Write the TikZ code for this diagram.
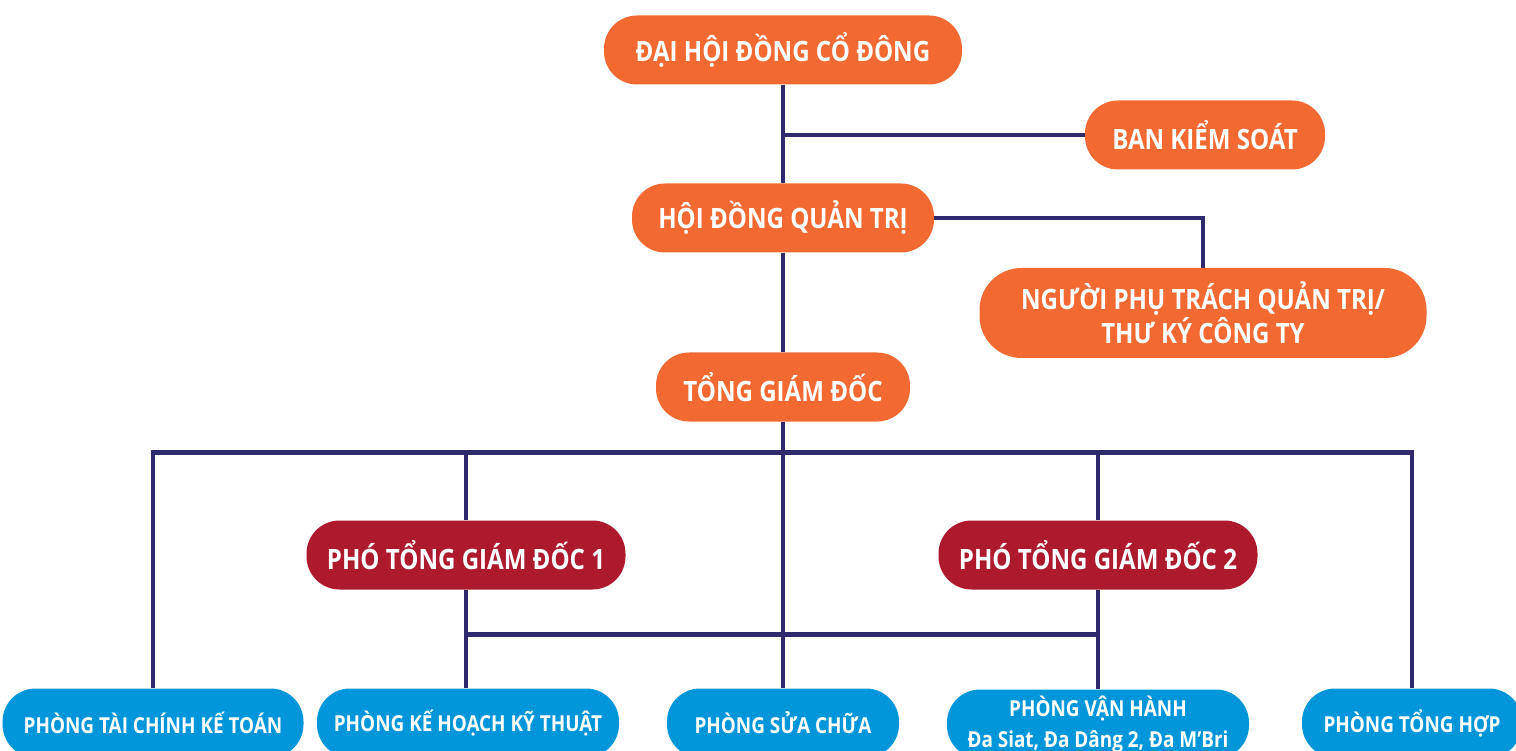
\documentclass[tikz,border=0pt]{standalone}
\usepackage{fontspec}
\newfontfamily\lbl{Open Sans}[FakeStretch=0.86]
\usetikzlibrary{backgrounds}
\definecolor{orgc}{HTML}{F26A32}
\definecolor{redc}{HTML}{AD1A2E}
\definecolor{bluc}{HTML}{0096D9}
\definecolor{navc}{HTML}{2F2A6E}
\tikzset{
  box/.style={inner sep=0pt, rounded corners=33pt, text=white, align=center, minimum height=69pt},
  obox/.style={box, fill=orgc, font=\lbl\bfseries\fontsize{28}{34}\selectfont},
  rbox/.style={box, fill=redc, font=\lbl\bfseries\fontsize{28}{34}\selectfont},
  bbox/.style={box, fill=bluc, font=\lbl\bfseries\fontsize{22}{30}\selectfont},
  link/.style={draw=navc, line width=4pt},
  buslink/.style={draw=navc, line width=5pt}
}
\begin{document}
\begin{tikzpicture}[x=1pt,y=-1pt]
\useasboundingbox (0,0) rectangle (1516,751);
\clip (0,0) rectangle (1516,751);
% nodes
\node[obox, minimum width=358pt] (dh) at (783,50) {ĐẠI HỘI ĐỒNG CỔ ĐÔNG};
\node[obox, minimum width=240pt] (bks) at (1205,135) {BAN KIỂM SOÁT};
\node[obox, minimum width=302pt] (hd) at (783,218) {HỘI ĐỒNG QUẢN TRỊ};
\node[obox, minimum width=447pt, minimum height=90pt, rounded corners=42pt] (npt) at (1203,313) {NGƯỜI PHỤ TRÁCH QUẢN TRỊ/\\THƯ KÝ CÔNG TY};
\node[obox, minimum width=254pt] (tgd) at (783,387) {TỔNG GIÁM ĐỐC};
\node[rbox, minimum width=319pt] (pg1) at (466,555) {PHÓ TỔNG GIÁM ĐỐC 1};
\node[rbox, minimum width=319pt] (pg2) at (1098,555) {PHÓ TỔNG GIÁM ĐỐC 2};
\node[bbox, minimum width=301pt] (p1) at (153,723) {PHÒNG TÀI CHÍNH KẾ TOÁN};
\node[bbox, minimum width=302pt] (p2) at (468,723) {PHÒNG KẾ HOẠCH KỸ THUẬT};
\node[bbox, minimum width=232pt] (p3) at (783,723) {PHÒNG SỬA CHỮA};
\node[bbox, minimum width=302pt, font=\lbl\bfseries\fontsize{22}{31}\selectfont] (p4) at (1098,724) {PHÒNG VẬN HÀNH\\Đa Siat, Đa Dâng 2, Đa M’Bri};
\node[bbox, minimum width=220pt] (p5) at (1412,723) {PHÒNG TỔNG HỢP};
\coordinate (bus) at (783,452);
\coordinate (bus2) at (783,634);
% connectors
\begin{scope}[on background layer]
\path[link] (dh.south) -- (hd.north);
\path[link] (bks.west) -- (bks.west -| dh.south);
\path[link] (hd.east) -| (npt.north);
\path[link] (hd.south) -- (tgd.north);
\path[link] (tgd.south) -- (p3.north);
\path[link] (p1.north) -- (p1.north |- bus);
\path[link] (p5.north) -- (p5.north |- bus);
\path[buslink] ([xshift=-2pt]p1.north |- bus) -- ([xshift=2pt]p5.north |- bus);
\path[link] (pg1.north) -- (pg1.north |- bus);
\path[link] (pg2.north) -- (pg2.north |- bus);
\path[link] (pg1.south) -- (pg1.south |- p2.north);
\path[link] (pg2.south) -- (p4.north);
\path[buslink] ([xshift=-2pt]pg1.south |- bus2) -- ([xshift=2pt]pg2.south |- bus2);
\end{scope}
\end{tikzpicture}
\end{document}
